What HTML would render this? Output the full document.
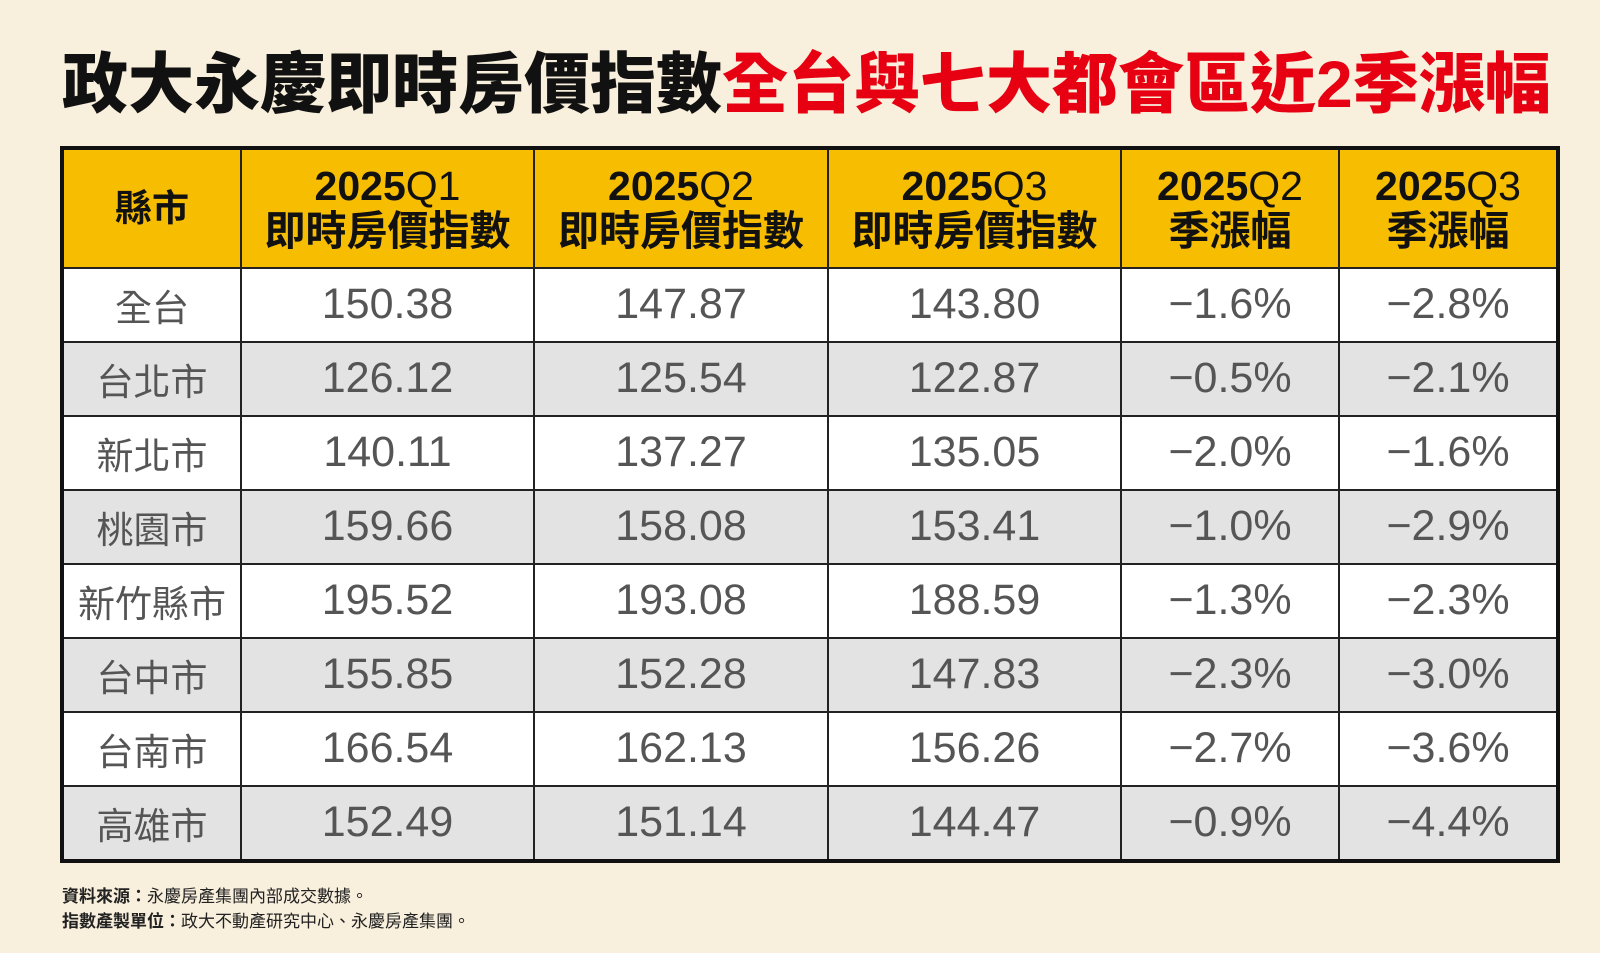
<!DOCTYPE html>
<html><head><meta charset="utf-8"><style>
body{margin:0;width:1600px;height:953px;background:#f8efdc;font-family:"Liberation Sans","Noto Sans CJK TC",sans-serif;position:relative;overflow:hidden}
.title{position:absolute;left:62px;top:44px;font-size:66px;font-weight:900;white-space:nowrap;line-height:80px;color:#111}
.title span{color:#e60012}
table{position:absolute;left:60px;top:146px;width:1496px;height:717px;border-collapse:collapse;border:4px solid #111;table-layout:fixed}
td{border:2px solid #222;text-align:center;padding:0;color:#555;font-size:43px}
td:first-child{font-size:37px}
tr.h td{background:#f7bd00;color:#111;font-weight:bold;font-size:41px;line-height:45px;height:117px}
tr.h td:first-child{font-size:37px}
tr.h td .q{font-weight:normal}
tr.g td{background:#e3e3e3}
tr.w td{background:#fff}
.fn{position:absolute;left:62px;font-size:17px;color:#222}
</style></head><body>
<div class="title">政大永慶即時房價指數<span>全台與七大都會區近2季漲幅</span></div>
<table>
<colgroup><col style="width:179px"><col style="width:293px"><col style="width:294px"><col style="width:293px"><col style="width:218px"><col style="width:219px"></colgroup>
<tr class="h"><td>縣市</td><td>2025<span class="q">Q1</span><br>即時房價指數</td><td>2025<span class="q">Q2</span><br>即時房價指數</td><td>2025<span class="q">Q3</span><br>即時房價指數</td><td>2025<span class="q">Q2</span><br>季漲幅</td><td>2025<span class="q">Q3</span><br>季漲幅</td></tr>
<tr class="w"><td>全台</td><td>150.38</td><td>147.87</td><td>143.80</td><td>−1.6%</td><td>−2.8%</td></tr>
<tr class="g"><td>台北市</td><td>126.12</td><td>125.54</td><td>122.87</td><td>−0.5%</td><td>−2.1%</td></tr>
<tr class="w"><td>新北市</td><td>140.11</td><td>137.27</td><td>135.05</td><td>−2.0%</td><td>−1.6%</td></tr>
<tr class="g"><td>桃園市</td><td>159.66</td><td>158.08</td><td>153.41</td><td>−1.0%</td><td>−2.9%</td></tr>
<tr class="w"><td>新竹縣市</td><td>195.52</td><td>193.08</td><td>188.59</td><td>−1.3%</td><td>−2.3%</td></tr>
<tr class="g"><td>台中市</td><td>155.85</td><td>152.28</td><td>147.83</td><td>−2.3%</td><td>−3.0%</td></tr>
<tr class="w"><td>台南市</td><td>166.54</td><td>162.13</td><td>156.26</td><td>−2.7%</td><td>−3.6%</td></tr>
<tr class="g"><td>高雄市</td><td>152.49</td><td>151.14</td><td>144.47</td><td>−0.9%</td><td>−4.4%</td></tr>
</table>
<div class="fn" style="top:882px"><b>資料來源：</b>永慶房產集團內部成交數據。</div>
<div class="fn" style="top:907px"><b>指數產製單位：</b>政大不動產研究中心、永慶房產集團。</div>
</body></html>
